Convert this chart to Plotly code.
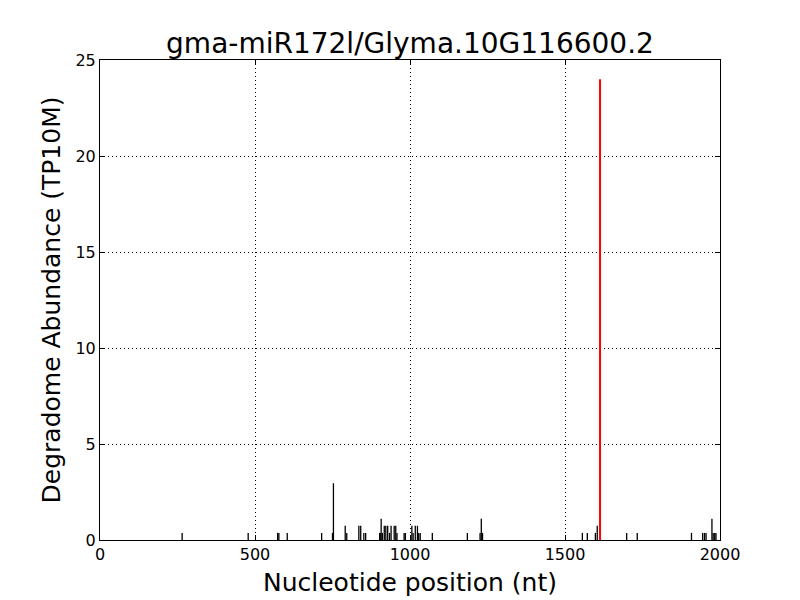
import plotly.graph_objects as go

title = "gma-miR172l/Glyma.10G116600.2"
positions = [265, 478, 573, 577, 604, 715, 750, 753, 791, 796, 835, 841, 851, 857,
             902, 904, 907, 911, 917, 922, 928, 934, 939, 949, 954, 958, 981, 985,
             1006, 1010, 1017, 1024, 1028, 1033, 1072, 1185, 1226, 1230, 1234,
             1556, 1572, 1598, 1604, 1699, 1733, 1908, 1944, 1950, 1955, 1974,
             1978, 1983, 1987]
values = [0.37, 0.37, 0.37, 0.37, 0.37, 0.37, 0.37, 2.96, 0.74, 0.37, 0.74, 0.74, 0.37, 0.37,
          0.37, 0.37, 1.11, 0.37, 0.74, 0.74, 0.74, 0.37, 0.74, 0.74, 0.74, 0.37, 0.37, 0.37,
          0.74, 0.37, 0.74, 0.74, 0.37, 0.37, 0.37, 0.37, 0.37, 1.11, 0.37,
          0.37, 0.37, 0.37, 0.74, 0.37, 0.37, 0.37, 0.37, 0.37, 0.37, 1.11,
          0.37, 0.37, 0.37]
target_pos = [1613]
target_val = [24.0]
x_ticks = [0, 500, 1000, 1500, 2000]
y_ticks = [0, 5, 10, 15, 20, 25]

def segs(xs, ys):
    X, Y = [], []
    for x, y in zip(xs, ys):
        X += [x, x, None]
        Y += [0, y, None]
    return X, Y

fig = go.Figure()
bx, by = segs(positions, values)
fig.add_trace(go.Scatter(x=bx, y=by, mode="lines", line=dict(color="black", width=1.3),
                         hoverinfo="skip", showlegend=False))
rx, ry = segs(target_pos, target_val)
fig.add_trace(go.Scatter(x=rx, y=ry, mode="lines", line=dict(color="red", width=2),
                         hoverinfo="skip", showlegend=False))

axis_common = dict(showline=True, linecolor="black", linewidth=1, mirror="ticks",
                   ticks="inside", ticklen=5, tickcolor="black",
                   showgrid=True, gridcolor="black", griddash="1px,3px", gridwidth=1,
                   zeroline=False, automargin=False,
                   tickfont=dict(size=16, color="black"))

fig.update_layout(
    width=800, height=600,
    paper_bgcolor="white", plot_bgcolor="white",
    margin=dict(l=92, r=88, t=52, b=68),
    font=dict(family="DejaVu Sans", color="black"),
    title=dict(text=title, x=0.5025, xanchor="center", y=0.942, yanchor="middle",
               font=dict(size=28)),
    xaxis=dict(range=[0, 2000], tickvals=x_ticks,
               title=dict(text="Nucleotide position (nt)", font=dict(size=25), standoff=10),
               **axis_common),
    yaxis=dict(range=[0, 25], tickvals=y_ticks,
               title=dict(text="Degradome Abundance (TP10M)", font=dict(size=25), standoff=7),
               **axis_common),
)

fig.write_html("out.html")
